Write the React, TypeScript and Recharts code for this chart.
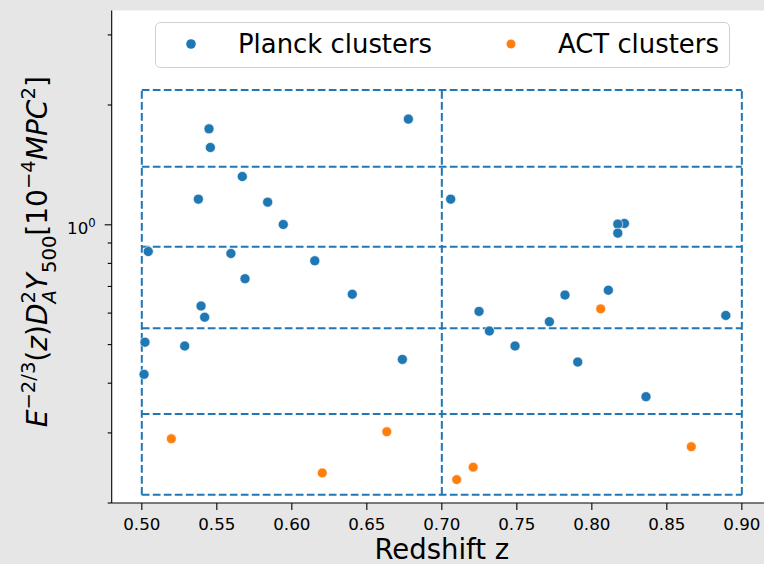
import React from 'react'
import { ScatterChart, Scatter, XAxis, YAxis, ReferenceLine, CartesianGrid, Legend } from 'recharts'

const FONT = '"DejaVu Sans", sans-serif'
const BLUE = '#1f77b4'
const ORANGE = '#ff7f0e'

// Planck clusters: redshift and scaled Y500
const planckZ = [
  0.5043, 0.5448, 0.5457, 0.5377, 0.6777, 0.567, 0.5839, 0.5943, 0.7059, 0.5594,
  0.6153, 0.5688, 0.8217, 0.8173, 0.8173, 0.5395, 0.5419, 0.5021, 0.5286, 0.5015,
  0.6403, 0.6737, 0.7248, 0.7317, 0.7488, 0.7717, 0.7821, 0.811, 0.7906, 0.8361,
  0.8893,
]
const planckY = [
  0.857, 1.742, 1.564, 1.16, 1.843, 1.322, 1.14, 1.002, 1.16, 0.847,
  0.812, 0.732, 1.008, 1.004, 0.953, 0.625, 0.586, 0.507, 0.496, 0.421,
  0.669, 0.459, 0.606, 0.541, 0.496, 0.571, 0.666, 0.685, 0.452, 0.37,
  0.592,
]

// ACT clusters
const actZ = [0.5197, 0.6203, 0.6633, 0.7099, 0.7209, 0.8059, 0.8663]
const actY = [0.29, 0.238, 0.302, 0.229, 0.246, 0.615, 0.277]

// bin edges of the selection grid
const zEdges = [0.5, 0.7, 0.9]
const yEdges = [0.2097, 0.3346, 0.55, 0.881, 1.4, 2.181]

const xTicks = [0.5, 0.55, 0.6, 0.65, 0.7, 0.75, 0.8, 0.85, 0.9]
const yTicks = [0.2, 0.3, 0.4, 0.5, 0.6, 0.7, 0.8, 0.9, 1, 2, 3]

const seriesNames = ['Planck clusters', 'ACT clusters']
const seriesColors = [BLUE, ORANGE]

const planck = planckZ.map((z, i) => ({ z, y: planckY[i] }))
const act = actZ.map((z, i) => ({ z, y: actY[i] }))

const dot = (r: number) => (p: any) => (
  <circle cx={p.cx} cy={p.cy} r={r} fill={p.fill} stroke="#fff" strokeWidth={0.6} />
)

function YTick({ x, y, payload }: any) {
  const major = payload.value === 1
  const len = major ? 7 : 4
  return (
    <g>
      <line x1={x - len} x2={x} y1={y} y2={y} stroke="#000" strokeWidth={1.1} />
      {major && (
        <text x={x - 16} y={y + 9} textAnchor="end" fontFamily={FONT} fontSize={16.7} fill="#000">
          10<tspan fontSize={11.7} baselineShift={7}>0</tspan>
        </text>
      )}
    </g>
  )
}

function YLabel({ viewBox }: any) {
  const cx = 46.7
  const cy = viewBox.y + viewBox.height / 2 - 5
  const s = 19.6
  return (
    <text x={cx} y={cy} transform={`rotate(-90 ${cx} ${cy})`} textAnchor="middle" fontFamily={FONT} fontSize={28} fill="#000">
      <tspan fontStyle="italic">E</tspan>
      <tspan fontSize={s} baselineShift={11.7}>−2/3</tspan>
      <tspan>(</tspan>
      <tspan fontStyle="italic">z</tspan>
      <tspan>)</tspan>
      <tspan fontStyle="italic">D</tspan>
      <tspan fontSize={s} baselineShift={11.7}>2</tspan>
      <tspan fontSize={s} fontStyle="italic" baselineShift={-9} dx={-12.5}>A</tspan>
      <tspan fontStyle="italic">Y</tspan>
      <tspan fontSize={s} baselineShift={-9}>500</tspan>
      <tspan>[10</tspan>
      <tspan fontSize={s} baselineShift={11.7}>−4</tspan>
      <tspan fontStyle="italic">MPC</tspan>
      <tspan fontSize={s} baselineShift={11.7}>2</tspan>
      <tspan>]</tspan>
    </text>
  )
}

function XLabel({ viewBox }: any) {
  return (
    <text x={viewBox.x + viewBox.width / 2} y={viewBox.y + 56} textAnchor="middle" fontFamily={FONT} fontSize={27.5} fill="#000">
      Redshift z
    </text>
  )
}

function LegendBox() {
  const slots = [36, 356]
  return (
    <svg width={575} height={46} style={{ display: 'block' }}>
      <rect x={0.5} y={0.5} width={574} height={45} rx={5} fill="rgba(255,255,255,0.8)" stroke="#d0d0d0" strokeWidth={1} />
      {seriesNames.map((name, i) => (
        <g key={name}>
          <circle cx={slots[i]} cy={22} r={i === 0 ? 4.8 : 4.5} fill={seriesColors[i]} />
          <text x={slots[i] + 47} y={30.5} fontFamily={FONT} fontSize={25.9} fill="#000">{name}</text>
        </g>
      ))}
    </svg>
  )
}

export default function App() {
  return (
    <div style={{ position: 'absolute', left: 0, top: 0, width: 764, height: 564, overflow: 'hidden', background: '#e6e6e6' }}>
      <ScatterChart width={780} height={564} margin={{ top: 10.5, right: 8, bottom: 0, left: 0 }}>
        <CartesianGrid fill="#fff" horizontal={false} vertical={false} />
        <XAxis
          type="number"
          dataKey="z"
          domain={[0.47993, 0.9201]}
          allowDataOverflow
          ticks={xTicks}
          interval={0}
          tickFormatter={(v: number) => v.toFixed(2)}
          tickSize={7}
          tickMargin={8}
          height={61}
          axisLine={{ stroke: '#000', strokeWidth: 1.1 }}
          tickLine={{ stroke: '#000', strokeWidth: 1.1 }}
          tick={{ fontSize: 16.7, fill: '#000', fontFamily: FONT }}
          label={XLabel}
        />
        <XAxis xAxisId="top" orientation="top" type="number" domain={[0.47993, 0.9201]} height={0} tick={false} tickLine={false} axisLine={{ stroke: '#000', strokeWidth: 1.1 }} />
        <YAxis
          type="number"
          dataKey="y"
          scale="log"
          domain={[0.2, 3.455]}
          allowDataOverflow
          ticks={yTicks}
          interval={0}
          width={111.7}
          tickSize={0}
          tickMargin={0}
          tickLine={false}
          axisLine={{ stroke: '#000', strokeWidth: 1.1 }}
          tick={YTick}
          label={YLabel}
        />
        {yEdges.map((v) => (
          <ReferenceLine
            key={'h' + v}
            segment={[{ x: zEdges[0], y: v }, { x: zEdges[zEdges.length - 1], y: v }]}
            stroke={BLUE}
            strokeWidth={2}
            strokeDasharray="7.7 3.3"
          />
        ))}
        {zEdges.map((z) => (
          <ReferenceLine
            key={'v' + z}
            segment={[{ x: z, y: yEdges[0] }, { x: z, y: yEdges[yEdges.length - 1] }]}
            stroke={BLUE}
            strokeWidth={2}
            strokeDasharray="7.7 3.3"
          />
        ))}
        <Scatter name={seriesNames[0]} data={planck} fill={BLUE} shape={dot(5)} isAnimationActive={false} />
        <Scatter name={seriesNames[1]} data={act} fill={ORANGE} shape={dot(4.9)} isAnimationActive={false} />
        <Legend
          layout="horizontal"
          align="center"
          verticalAlign="middle"
          content={LegendBox}
          wrapperStyle={{ left: 155, top: 22, width: 575, height: 46 }}
        />
      </ScatterChart>
    </div>
  )
}
